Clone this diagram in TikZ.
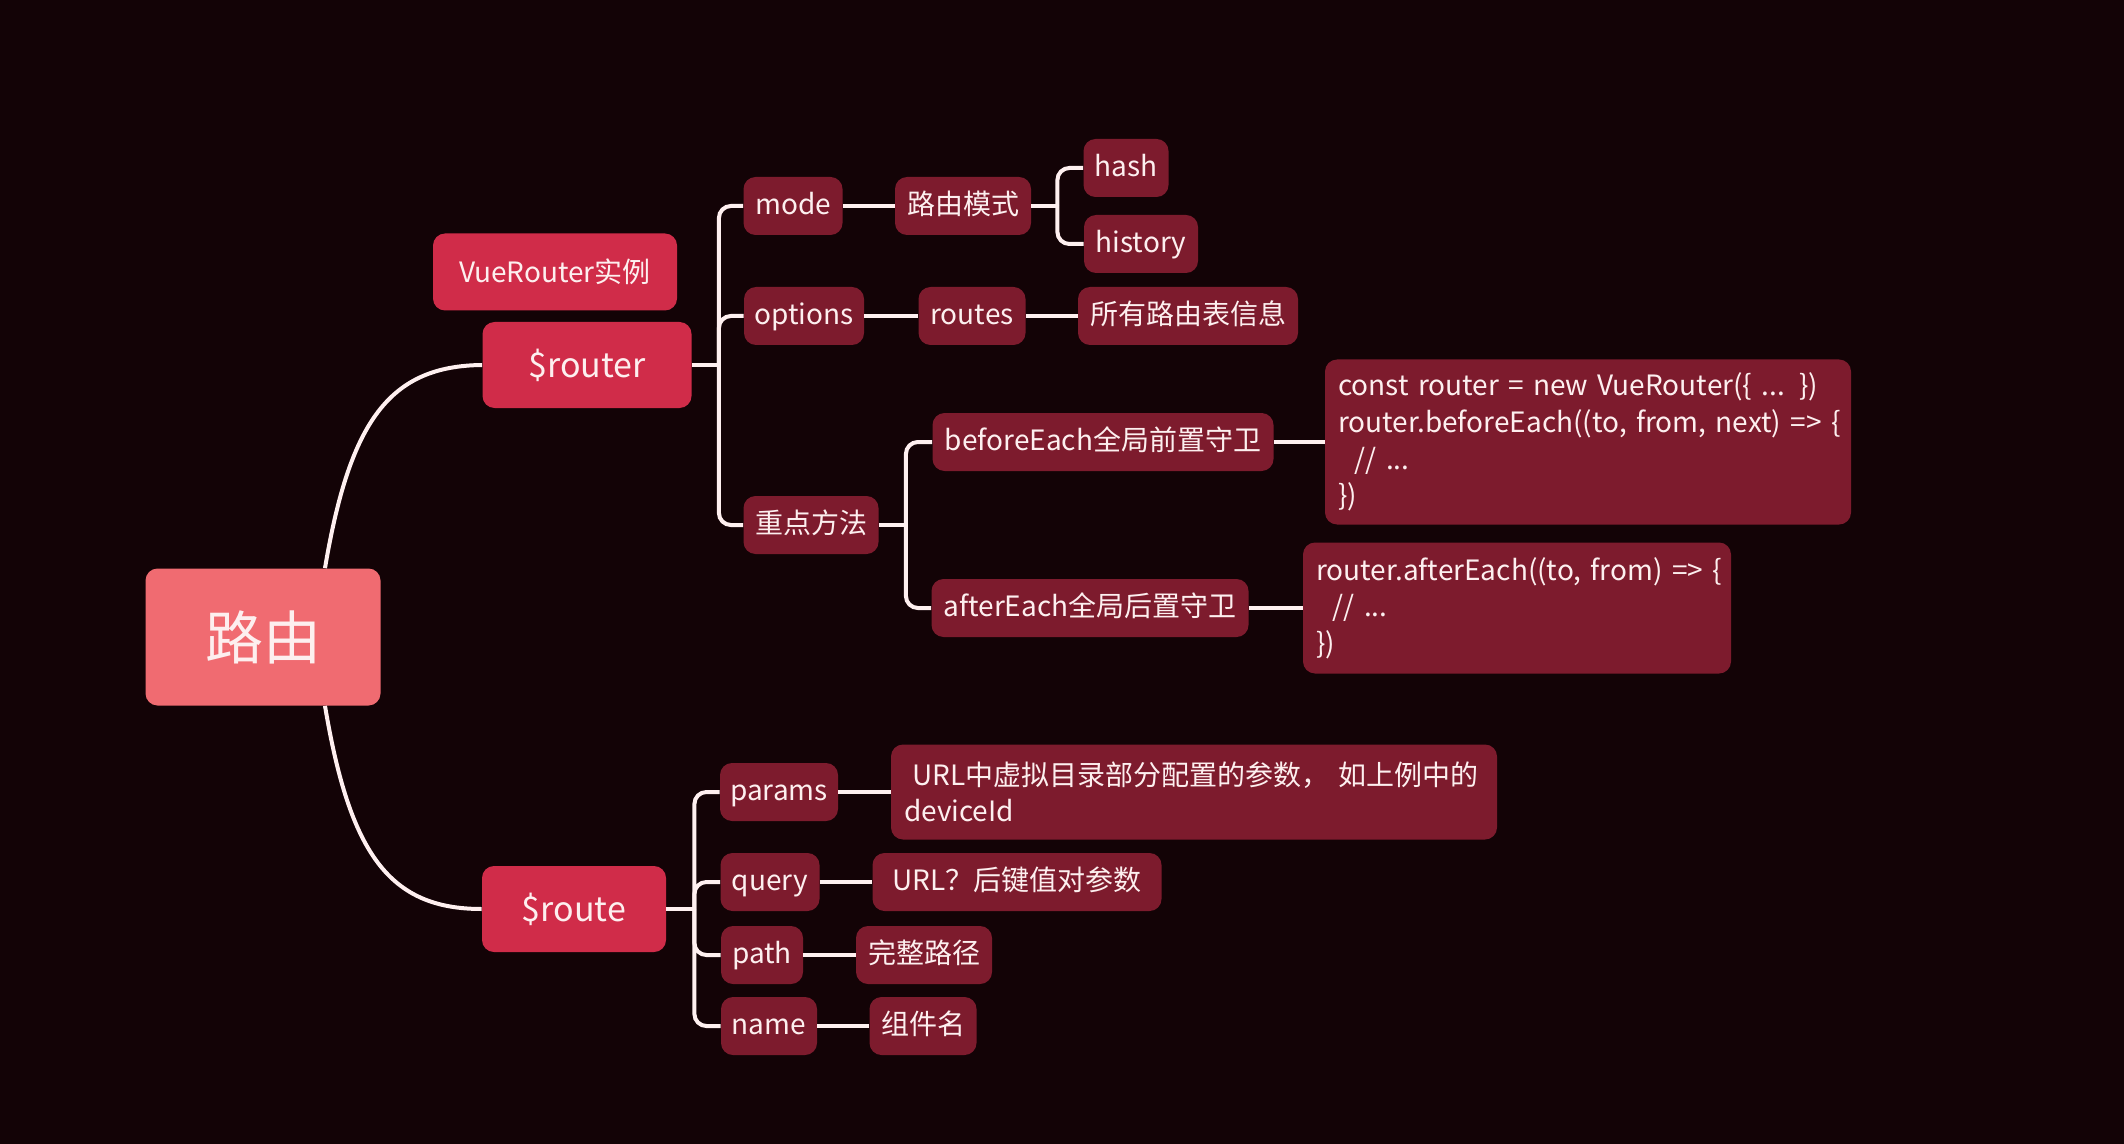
\documentclass[tikz,border=0pt]{standalone}
\usepackage{fontspec}
\setmainfont{Noto Sans CJK SC}
\usetikzlibrary{calc}

\definecolor{bgdark}{HTML}{130306}
\definecolor{rootcoral}{HTML}{F06B71}
\definecolor{mainred}{HTML}{D02C49}
\definecolor{leafred}{HTML}{7D1B2D}
\definecolor{inkwhite}{HTML}{FDEFEF}
\definecolor{linkwhite}{HTML}{FFF0F0}

\begin{document}
\begin{tikzpicture}[
  x=0.5pt,
  y=-0.5pt,
  font=\fontsize{14}{18.3}\selectfont,
  line/.style={draw=linkwhite,line width=2pt},
  link/.style={line,rounded corners=6pt},
  box/.style={rounded corners=6pt,align=center,text=inkwhite,inner xsep=0pt,inner ysep=0pt},
  rootbox/.style={box,fill=rootcoral,font=\fontsize{29}{34}\selectfont,minimum height=68.5pt},
  mainbox/.style={box,fill=mainred,font=\fontsize{17}{20}\selectfont,minimum height=43pt},
  leafbox/.style={box,fill=leafred,minimum height=29pt,text height=0.82em,text depth=0pt},
  textbox/.style={box,fill=leafred,align=left,inner xsep=6.5pt}
]

% Background
\fill[bgdark] (0,0) rectangle (2124,1144);

% Root and main branches
\node[rootbox,minimum width=117.5pt] (root) at (263,637) {路由};
\node[mainbox,font=\fontsize{14}{18}\selectfont,minimum width=122pt,minimum height=38.5pt] (vue) at (555,272) {VueRouter实例};
\node[mainbox,minimum width=104.5pt] (router) at (587,365) {\$router};
\node[mainbox,minimum width=92pt] (route) at (574,909) {\$route};

\draw[line] ($(root.north)+(62,0)$) .. controls (350,420) and (390,366) .. (router.west);
\draw[line] ($(root.south)+(62,0)$) .. controls (350,855) and (390,909) .. (route.west);

% $router children
\node[leafbox,minimum width=49.5pt] (mode) at (793,206) {mode};
\node[leafbox,minimum width=68pt] (modecn) at (963,206) {路由模式};
\node[leafbox,minimum width=42.5pt] (hash) at (1126,168) {hash};
\node[leafbox,minimum width=57pt] (history) at (1141,244) {history};
\node[leafbox,minimum width=60pt] (options) at (804,316) {options};
\node[leafbox,minimum width=53.5pt] (routes) at (972,316) {routes};
\node[leafbox,minimum width=110pt] (allroutes) at (1188,316) {所有路由表信息};
\node[leafbox,minimum width=67.5pt] (methods) at (811,525) {重点方法};
\node[leafbox,minimum width=170.5pt] (before) at (1103,442) {beforeEach全局前置守卫};
\node[leafbox,minimum width=158.5pt] (after) at (1090,608) {afterEach全局后置守卫};

\node[textbox,text width=250pt,minimum height=82.5pt] (beforecode) at (1588,442)
  {const router = new VueRouter(\{ ... \})\\
   router.beforeEach((to,~from,~next)~=>~\{\\
   \hspace*{0.6em}// ...\\
   \})};
\node[textbox,text width=201pt,minimum height=65.5pt] (aftercode) at (1517,608)
  {router.afterEach((to,~from)~=>~\{\\
   \hspace*{0.6em}// ...\\
   \})};

% $route children
\node[leafbox,minimum width=59pt] (params) at (779,792) {params};
\node[leafbox,minimum width=49.5pt] (query) at (770,882) {query};
\node[leafbox,minimum width=41pt] (path) at (762,955) {path};
\node[leafbox,minimum width=48pt] (name) at (769,1026) {name};
\node[textbox,text width=290pt,minimum height=47.5pt] (paramsdesc) at (1194,792)
  {\hspace*{0.3em}URL中虚拟目录部分配置的参数，~如上例中的\\deviceId};
\node[leafbox,minimum width=144.5pt] (querydesc) at (1017,882) {URL？后键值对参数};
\node[leafbox,minimum width=68pt] (pathdesc) at (924,955) {完整路径};
\node[leafbox,minimum width=53.5pt] (namedesc) at (923,1026) {组件名};

% Forks
\coordinate (routerfork) at ($(router.east)+(27,0)$);
\coordinate (modefork) at ($(modecn.east)+(26,0)$);
\coordinate (methodfork) at ($(methods.east)+(27,0)$);
\coordinate (routefork) at ($(route.east)+(28,0)$);

\draw[line] (router.east) -- (routerfork);
\foreach \kid in {mode,options,methods}
  \draw[link] (routerfork) |- (\kid.west);
\draw[line] (modecn.east) -- (modefork);
\foreach \kid in {hash,history}
  \draw[link] (modefork) |- (\kid.west);
\draw[line] (methods.east) -- (methodfork);
\foreach \kid in {before,after}
  \draw[link] (methodfork) |- (\kid.west);
\draw[line] (route.east) -- (routefork);
\foreach \kid in {params,query,path,name}
  \draw[link] (routefork) |- (\kid.west);

% Straight links
\draw[line] (mode) -- (modecn);
\draw[line] (options) -- (routes);
\draw[line] (routes) -- (allroutes);
\draw[line] (before) -- (beforecode);
\draw[line] (after) -- (aftercode);
\draw[line] (params) -- (paramsdesc);
\draw[line] (query) -- (querydesc);
\draw[line] (path) -- (pathdesc);
\draw[line] (name) -- (namedesc);

\end{tikzpicture}
\end{document}
